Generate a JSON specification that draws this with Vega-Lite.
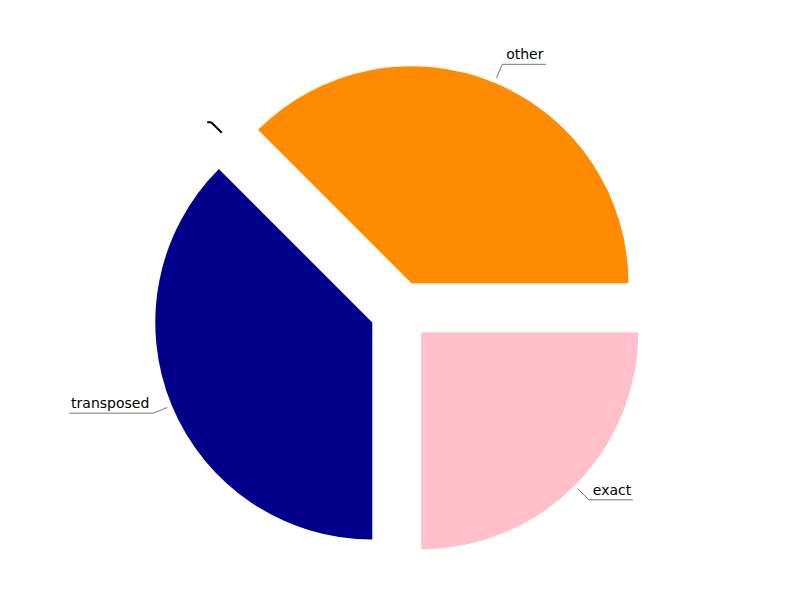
{
  "$schema": "https://vega.github.io/schema/vega-lite/v6.json",
  "width": 800,
  "height": 600,
  "padding": 0,
  "autosize": {"type": "none"},
  "config": {"view": {"stroke": null}},
  "data": {"values": [
    {"label": "other", "value": 37.5, "order": 1},
    {"label": "exact", "value": 25, "order": 2},
    {"label": "transposed", "value": 37.5, "order": 3},
    {"label": "", "value": 0, "order": 4}
  ]},
  "transform": [
    {"stack": "value", "groupby": [], "sort": [{"field": "order", "order": "ascending"}], "as": ["v0", "v1"]},
    {"calculate": "-PI/4 + (datum.v0 + datum.v1) * PI / 100", "as": "mid"},
    {"calculate": "sin(datum.mid) >= 0 ? 1 : -1", "as": "side"},
    {"calculate": "0.1382 * sin(datum.mid)", "as": "cx"},
    {"calculate": "0.1382 * cos(datum.mid)", "as": "cy"},
    {"calculate": "1.1613 * sin(datum.mid)", "as": "tx"},
    {"calculate": "1.1613 * cos(datum.mid)", "as": "ty"},
    {"calculate": "1.2304 * sin(datum.mid)", "as": "ex"},
    {"calculate": "1.2304 * cos(datum.mid)", "as": "ey"},
    {"calculate": "datum.ex + datum.side * (4 + 8 * length(datum.label)) / 217", "as": "ux"},
    {"calculate": "datum.ex + datum.side * 4 / 217", "as": "lx"}
  ],
  "layer": [
    {
      "transform": [{"filter": "datum.value > 0"}],
      "mark": {"type": "arc", "radius": 217},
      "encoding": {
        "x": {"field": "cx", "type": "quantitative", "scale": {"domain": [-1.8433, 1.8433], "nice": false, "zero": false}, "axis": null},
        "y": {"field": "cy", "type": "quantitative", "scale": {"domain": [-1.3318, 1.4332], "nice": false, "zero": false}, "axis": null},
        "theta": {"field": "v0", "type": "quantitative", "stack": null, "scale": {"domain": [0, 100], "range": [-0.785398, 5.497787]}},
        "theta2": {"field": "v1"},
        "color": {"field": "label", "type": "nominal", "scale": {"domain": ["other", "exact", "transposed"], "range": ["#FF8C00", "#FFC0CB", "#00008B"]}, "legend": null}
      }
    },
    {
      "mark": {"type": "rule"},
      "encoding": {
        "x": {"field": "tx", "type": "quantitative"},
        "y": {"field": "ty", "type": "quantitative"},
        "x2": {"field": "ex"},
        "y2": {"field": "ey"},
        "color": {"condition": {"test": "datum.label === ''", "value": "#000000"}, "value": "#555555"},
        "strokeWidth": {"condition": {"test": "datum.label === ''", "value": 2}, "value": 0.8}
      }
    },
    {
      "mark": {"type": "rule"},
      "encoding": {
        "x": {"field": "ex", "type": "quantitative"},
        "y": {"field": "ey", "type": "quantitative"},
        "x2": {"field": "ux"},
        "y2": {"field": "ey"},
        "color": {"condition": {"test": "datum.label === ''", "value": "#000000"}, "value": "#555555"},
        "strokeWidth": {"condition": {"test": "datum.label === ''", "value": 2}, "value": 0.8}
      }
    },
    {
      "transform": [{"filter": "datum.side > 0"}],
      "mark": {"type": "text", "align": "left", "baseline": "alphabetic", "dy": -5, "font": "DejaVu Sans", "fontSize": 14, "color": "#000000"},
      "encoding": {
        "x": {"field": "lx", "type": "quantitative"},
        "y": {"field": "ey", "type": "quantitative"},
        "text": {"field": "label"}
      }
    },
    {
      "transform": [{"filter": "datum.side < 0"}],
      "mark": {"type": "text", "align": "right", "baseline": "alphabetic", "dy": -5, "font": "DejaVu Sans", "fontSize": 14, "color": "#000000"},
      "encoding": {
        "x": {"field": "lx", "type": "quantitative"},
        "y": {"field": "ey", "type": "quantitative"},
        "text": {"field": "label"}
      }
    }
  ]
}
